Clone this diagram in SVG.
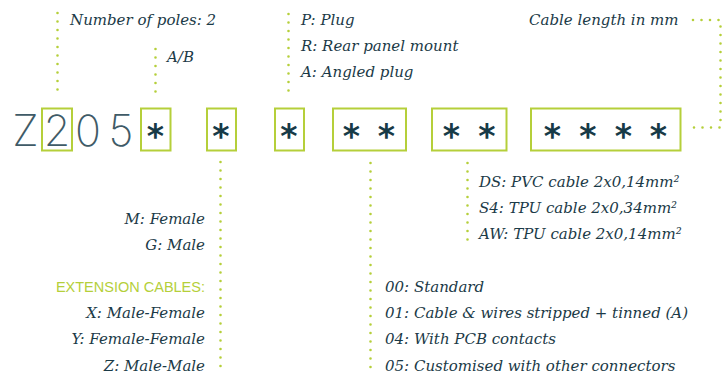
<svg xmlns="http://www.w3.org/2000/svg" width="725" height="376" viewBox="0 0 725 376">
<style>
.box{fill:none;stroke:#b5cf3a;stroke-width:2}
.code{font-family:Inter,"Liberation Sans",sans-serif;font-weight:200;font-size:43px;fill:#3f5b67;text-anchor:middle}
.ast{font-family:"DejaVu Sans",sans-serif;font-weight:bold;font-size:33px;fill:#173a47;text-anchor:middle}
.lbl{font-family:"DejaVu Serif","Liberation Serif",serif;font-style:italic;font-size:15px;fill:#1b3a47}
.r{text-anchor:end}
.ext{font-family:"Liberation Sans",sans-serif;font-size:14.5px;fill:#b5cf3a;text-anchor:end}
.dot{fill:none;stroke:#b5cf3a;stroke-width:2.6;stroke-linecap:round;stroke-dasharray:0 8.5}
</style>
<rect width="725" height="376" fill="#ffffff"/>
<g id="connectors">
<path class="dot" d="M57.5 13V98"/>
<path class="dot" d="M155.5 49V98"/>
<path class="dot" d="M288.5 14V98"/>
<path class="dot" d="M693 20H720.5V127.5H693"/>
<path class="dot" d="M220.5 162V370"/>
<path class="dot" d="M370.5 163V369"/>
<path class="dot" d="M467.5 163V240"/>
</g>
<g id="prefix">
<text class="code" x="25.5" y="146">Z</text>
<text class="code" x="88" y="146">0</text>
<text class="code" x="121" y="146">5</text>
</g>
<g id="poles">
<rect class="box" x="42" y="108.5" width="30" height="42"/>
<text class="code" x="57" y="146">2</text>
</g>
<g id="field-ab">
<rect class="box" x="141" y="108.5" width="29.5" height="42"/>
<text class="ast" x="155.5" y="148">*</text>
</g>
<g id="field-gender">
<rect class="box" x="207" y="108.5" width="29" height="42"/>
<text class="ast" x="221" y="148">*</text>
</g>
<g id="field-type">
<rect class="box" x="275" y="108.5" width="29" height="42"/>
<text class="ast" x="289" y="148">*</text>
</g>
<g id="field-options">
<rect class="box" x="333" y="108.5" width="73" height="42"/>
<text class="ast" x="351.5" y="148">*</text>
<text class="ast" x="386.5" y="148">*</text>
</g>
<g id="field-cable">
<rect class="box" x="432" y="108.5" width="74.5" height="42"/>
<text class="ast" x="451.5" y="148">*</text>
<text class="ast" x="487" y="148">*</text>
</g>
<g id="field-length">
<rect class="box" x="531" y="108.5" width="149.5" height="42"/>
<text class="ast" x="552.5" y="148">*</text>
<text class="ast" x="588" y="148">*</text>
<text class="ast" x="623.5" y="148">*</text>
<text class="ast" x="658.5" y="148">*</text>
</g>
<g id="label-poles"><text class="lbl" x="70" y="25">Number of poles: 2</text></g>
<g id="label-ab"><text class="lbl" x="167" y="62">A/B</text></g>
<g id="label-type">
<text class="lbl" x="301" y="25">P: Plug</text>
<text class="lbl" x="301" y="51">R: Rear panel mount</text>
<text class="lbl" x="301" y="77">A: Angled plug</text>
</g>
<g id="label-length"><text class="lbl" x="529" y="25">Cable length in mm</text></g>
<g id="label-gender">
<text class="lbl r" x="205" y="224">M: Female</text>
<text class="lbl r" x="205" y="250">G: Male</text>
<text class="ext" x="205" y="292">EXTENSION CABLES:</text>
<text class="lbl r" x="205" y="318">X: Male-Female</text>
<text class="lbl r" x="205" y="344">Y: Female-Female</text>
<text class="lbl r" x="205" y="371">Z: Male-Male</text>
</g>
<g id="label-cable">
<text class="lbl" x="479" y="187">DS: PVC cable 2x0,14mm²</text>
<text class="lbl" x="479" y="213">S4: TPU cable 2x0,34mm²</text>
<text class="lbl" x="479" y="239">AW: TPU cable 2x0,14mm²</text>
</g>
<g id="label-options">
<text class="lbl" x="385" y="292">00: Standard</text>
<text class="lbl" x="385" y="318">01: Cable &amp; wires stripped + tinned (A)</text>
<text class="lbl" x="385" y="344">04: With PCB contacts</text>
<text class="lbl" x="385" y="371">05: Customised with other connectors</text>
</g>
</svg>
